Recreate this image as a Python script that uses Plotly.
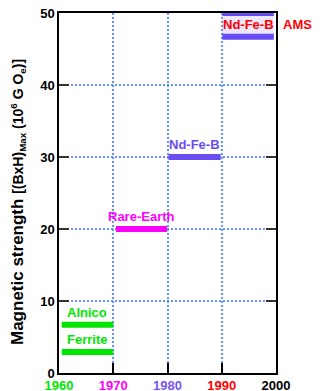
import plotly.graph_objects as go

# ---- data ----
materials = ["Ferrite", "Alnico", "Rare-Earth", "Nd-Fe-B"]
year_start = [1960.5, 1960.5, 1970.5, 1980.2]
year_end = [1970.0, 1970.0, 1979.9, 1989.8]
strength = [2.9, 6.7, 20.0, 30.0]
colors = ["#00e600", "#00e600", "#ff00ff", "#6a4cf5"]

ams_label = "Nd-Fe-B"
ams_note = "AMS"
ams_start, ams_end = 1990.1, 1999.6
ams_low, ams_high = 46.7, 50.0

xtick_vals = [1960, 1970, 1980, 1990, 2000]
xtick_colors = ["#00e600", "#ff00ff", "#7755ee", "#ff0000", "#000000"]
ytick_vals = [0, 10, 20, 30, 40, 50]

FONT = "Liberation Sans, Arial, Helvetica, sans-serif"
GRID = "#6690ff"

fig = go.Figure()

for name, x0, x1, y, c in zip(materials, year_start, year_end, strength, colors):
    fig.add_trace(go.Scatter(x=[x0, x1], y=[y, y], mode="lines",
                             line=dict(color=c, width=6), hoverinfo="skip"))
    fig.add_annotation(x=(x0 + x1) / 2, y=y, text="<b>" + name + "</b>",
                       showarrow=False, yanchor="bottom", yshift=3,
                       font=dict(family=FONT, size=13, color=c))

# AMS box
fig.add_shape(type="rect", x0=ams_start, x1=ams_end, y0=ams_low, y1=ams_high,
              fillcolor="#ece6fb", line=dict(width=0), layer="below")
for yv in [ams_low, ams_high]:
    fig.add_trace(go.Scatter(x=[ams_start, ams_end], y=[yv, yv], mode="lines",
                             line=dict(color="#6a4cf5", width=6), hoverinfo="skip",
                             cliponaxis=False))
fig.add_annotation(x=(ams_start + ams_end) / 2, y=(ams_low + ams_high) / 2,
                   text="<b>" + ams_label + "</b>", showarrow=False,
                   font=dict(family=FONT, size=13, color="#ff0000"))
fig.add_annotation(x=ams_end, y=(ams_low + ams_high) / 2, xanchor="left", xshift=7,
                   text="<b>" + ams_note + "</b>", showarrow=False,
                   font=dict(family=FONT, size=13, color="#ff0000"))

ticktext = ['<span style="color:%s"><b>%d</b></span>' % (c, v)
            for v, c in zip(xtick_vals, xtick_colors)]

fig.update_layout(
    template="none",
    width=327, height=391,
    margin=dict(l=59, r=51, t=13, b=18, pad=0),
    plot_bgcolor="white", paper_bgcolor="white",
    showlegend=False,
    font=dict(family=FONT, size=13, color="black"),
    xaxis=dict(range=[1960, 2000], tickvals=xtick_vals, ticktext=ticktext,
               ticks="inside", ticklen=10, tickcolor="black", tickwidth=1.5,
               showline=True, linecolor="black", linewidth=1.5, mirror=True,
               showgrid=True, gridcolor=GRID, griddash="2px,2px", gridwidth=1.5,
               zeroline=False, fixedrange=True, automargin=False,
               tickfont=dict(family=FONT, size=13)),
    yaxis=dict(range=[0, 50], tickvals=ytick_vals,
               ticktext=["<b>%d</b>" % v for v in ytick_vals],
               ticks="inside", ticklen=10, tickcolor="#333333", tickwidth=1.5,
               showline=True, linecolor="black", linewidth=1.5, mirror="ticks",
               showgrid=True, gridcolor=GRID, griddash="2px,2px", gridwidth=1.5,
               zeroline=False, fixedrange=True, automargin=False,
               tickfont=dict(family=FONT, size=13, color="black")),
)

fig.add_annotation(xref="paper", yref="paper", x=-(59 - 18) / 217, y=0.475,
                   xanchor="center", yanchor="middle", textangle=-90,
                   showarrow=False,
                   text='<b>Magnetic strength</b> <span style="font-size:14px"><b>[(BxH)<sub>Max</sub> (10<sup>6</sup> G O<sub>e</sub>)]</b></span>',
                   font=dict(family=FONT, size=17, color="black"))

fig.write_html("out.html", config={"displayModeBar": False},
               post_script="document.body.style.margin='0';")
